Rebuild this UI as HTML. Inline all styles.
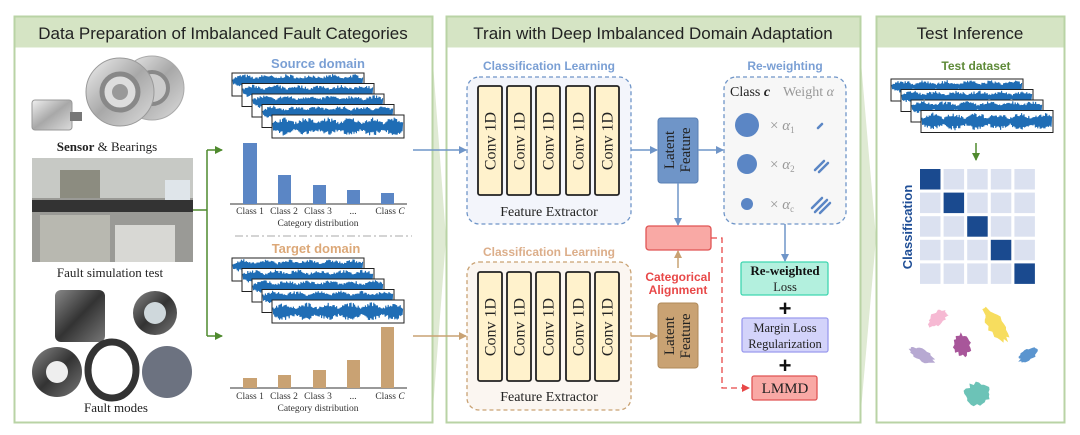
<!DOCTYPE html>
<html><head><meta charset="utf-8"><style>
html,body{margin:0;padding:0;background:#fff;}
svg{display:block;}
text{font-family:"Liberation Sans",sans-serif;}
.serif,.serif text,text.serif{font-family:"Liberation Serif",serif;}
</style></head><body>
<svg id="s" width="1080" height="435" viewBox="0 0 1080 435" xmlns="http://www.w3.org/2000/svg">
<defs>
<marker id="ab" markerWidth="8" markerHeight="8" refX="7" refY="4" orient="auto" markerUnits="userSpaceOnUse"><path d="M0,0 L8,4 L0,8z" fill="#6f95c8"/></marker>
<marker id="at" markerWidth="8" markerHeight="8" refX="7" refY="4" orient="auto" markerUnits="userSpaceOnUse"><path d="M0,0 L8,4 L0,8z" fill="#c9a273"/></marker>
<marker id="ag" markerWidth="8" markerHeight="8" refX="7" refY="4" orient="auto" markerUnits="userSpaceOnUse"><path d="M0,0 L8,4 L0,8z" fill="#4f8a2e"/></marker>
<marker id="ar" markerWidth="8" markerHeight="8" refX="7" refY="4" orient="auto" markerUnits="userSpaceOnUse"><path d="M0,0 L8,4 L0,8z" fill="#e84848"/></marker>
<linearGradient id="metal" x1="0" y1="0" x2="1" y2="1"><stop offset="0" stop-color="#f0f0f0"/><stop offset="0.5" stop-color="#a8a8a8"/><stop offset="1" stop-color="#dcdcdc"/></linearGradient>
<linearGradient id="dark" x1="0" y1="0" x2="1" y2="1"><stop offset="0" stop-color="#888"/><stop offset="0.5" stop-color="#333"/><stop offset="1" stop-color="#777"/></linearGradient>
</defs>

<polygon points="432,50 446,238 432,422" fill="#dfead3"/>
<polygon points="860,50 876,238 860,422" fill="#dfead3"/>

<rect x="14.5" y="16.5" width="418" height="406" fill="#fff" stroke="#b9d3a5" stroke-width="2"/>
<rect x="15.5" y="17.5" width="416" height="30" fill="#d5e4c4"/>
<text x="223" y="39" font-size="17" text-anchor="middle" fill="#222">Data Preparation of Imbalanced Fault Categories</text>

<rect x="446.5" y="16.5" width="414" height="406" fill="#fff" stroke="#b9d3a5" stroke-width="2"/>
<rect x="447.5" y="17.5" width="412" height="30" fill="#d5e4c4"/>
<text x="653" y="39" font-size="17" text-anchor="middle" fill="#222">Train with Deep Imbalanced Domain Adaptation</text>

<rect x="876.5" y="16.5" width="188" height="406" fill="#fff" stroke="#b9d3a5" stroke-width="2"/>
<rect x="877.5" y="17.5" width="186" height="30" fill="#d5e4c4"/>
<text x="970" y="39" font-size="17" text-anchor="middle" fill="#222">Test Inference</text>

<!-- Panel 1 photos -->
<rect x="32" y="100" width="40" height="30" rx="3" fill="url(#metal)" stroke="#999"/>
<rect x="70" y="112" width="12" height="9" fill="#777"/>
<circle cx="152" cy="88" r="32" fill="url(#metal)" stroke="#aaa"/>
<circle cx="152" cy="88" r="16" fill="#ccc" stroke="#888" stroke-width="4"/>
<circle cx="120" cy="92" r="34" fill="url(#metal)" stroke="#999"/>
<circle cx="120" cy="92" r="18" fill="#ddd" stroke="#888" stroke-width="5"/>
<circle cx="120" cy="92" r="8" fill="#999"/>
<text x="107" y="151" font-size="13" text-anchor="middle" class="serif" fill="#222"><tspan font-weight="bold">Sensor</tspan> &amp; Bearings</text>
<rect x="32" y="158" width="161" height="104" fill="#9a9a96"/>
<rect x="32" y="158" width="161" height="40" fill="#c7c9c5"/>
<rect x="32" y="200" width="161" height="12" fill="#333"/>
<rect x="40" y="215" width="70" height="47" fill="#b8b8b0"/>
<rect x="115" y="225" width="60" height="37" fill="#d8d8d4"/>
<rect x="60" y="170" width="40" height="28" fill="#8c8c80"/>
<rect x="165" y="180" width="25" height="20" fill="#dfe5ea"/>
<text x="110" y="277" font-size="13" text-anchor="middle" class="serif" fill="#222">Fault simulation test</text>
<rect x="55" y="290" width="50" height="52" rx="6" fill="url(#dark)"/>
<circle cx="155" cy="313" r="22" fill="url(#dark)"/><circle cx="155" cy="313" r="11" fill="#cfd8dc"/>
<circle cx="57" cy="372" r="25" fill="url(#dark)"/><circle cx="57" cy="372" r="11" fill="#eee"/>
<ellipse cx="112" cy="370" rx="24" ry="28" fill="none" stroke="#333" stroke-width="7"/>
<ellipse cx="167" cy="372" rx="25" ry="26" fill="#6c7280"/>
<text x="116" y="412" font-size="13" text-anchor="middle" class="serif" fill="#222">Fault modes</text>

<path d="M193,210 H207 M207,150 V336" stroke="#4f8a2e" stroke-width="1.5" fill="none"/>
<line x1="207" y1="150" x2="222" y2="150" stroke="#4f8a2e" stroke-width="1.5" marker-end="url(#ag)"/>
<line x1="207" y1="336" x2="222" y2="336" stroke="#4f8a2e" stroke-width="1.5" marker-end="url(#ag)"/>

<text x="318" y="68" font-size="13" font-weight="bold" text-anchor="middle" fill="#7a9fd4">Source domain</text>
<g id="src"></g>
<line x1="230" y1="204" x2="407" y2="204" stroke="#333"/>
<g fill="#5b86c5">
<rect x="243" y="143" width="14" height="61"/><rect x="278" y="175" width="13" height="29"/><rect x="313" y="185" width="13" height="19"/><rect x="347" y="190" width="13" height="14"/><rect x="381" y="193" width="13" height="11"/>
</g>
<g class="serif" font-size="9.5" fill="#333" text-anchor="middle">
<text x="250" y="214">Class 1</text><text x="284" y="214">Class 2</text><text x="318" y="214">Class 3</text><text x="353" y="214">...</text><text x="390" y="214">Class <tspan font-style="italic">C</tspan></text>
<text x="318" y="226">Category distribution</text>
</g>
<line x1="235" y1="236" x2="412" y2="236" stroke="#aaa" stroke-dasharray="8,3,2,3"/>
<text x="316" y="253" font-size="13" font-weight="bold" text-anchor="middle" fill="#dca878">Target domain</text>
<g id="tgt"></g>
<line x1="230" y1="388" x2="407" y2="388" stroke="#333"/>
<g fill="#c9a273">
<rect x="243" y="378" width="14" height="10"/><rect x="278" y="375" width="13" height="13"/><rect x="313" y="370" width="13" height="18"/><rect x="347" y="360" width="13" height="28"/><rect x="381" y="327" width="13" height="61"/>
</g>
<g class="serif" font-size="9.5" fill="#333" text-anchor="middle">
<text x="250" y="399">Class 1</text><text x="284" y="399">Class 2</text><text x="318" y="399">Class 3</text><text x="353" y="399">...</text><text x="390" y="399">Class <tspan font-style="italic">C</tspan></text>
<text x="318" y="411">Category distribution</text>
</g>

<!-- Panel 2 -->
<line x1="413" y1="150" x2="466" y2="150" stroke="#6f95c8" stroke-width="1.5" marker-end="url(#ab)"/>
<line x1="413" y1="336" x2="466" y2="336" stroke="#c9a273" stroke-width="1.5" marker-end="url(#at)"/>

<text x="549" y="70" font-size="12" font-weight="bold" text-anchor="middle" fill="#7a9fd4">Classification Learning</text>
<rect x="467" y="77" width="164" height="147" rx="12" fill="#f3f5fb" stroke="#6f95c8" stroke-dasharray="4,3" stroke-width="1.3"/>
<text x="549" y="216" font-size="14" text-anchor="middle" class="serif" fill="#222">Feature Extractor</text>

<text x="549" y="256" font-size="12" font-weight="bold" text-anchor="middle" fill="#dcae8a">Classification Learning</text>
<rect x="467" y="262" width="164" height="148" rx="12" fill="#fbf6f1" stroke="#c9a273" stroke-dasharray="4,3" stroke-width="1.3"/>
<text x="549" y="401" font-size="14" text-anchor="middle" class="serif" fill="#222">Feature Extractor</text>

<g id="convs"></g>

<line x1="631" y1="150" x2="657" y2="150" stroke="#6f95c8" stroke-width="1.5" marker-end="url(#ab)"/>
<rect x="658" y="118" width="40" height="65" rx="3" fill="#6f95c8" stroke="#5a80b5"/>
<text transform="translate(683,150) rotate(-90)" font-size="15" text-anchor="middle" class="serif" fill="#222"><tspan x="0" dy="-9">Latent</tspan><tspan x="0" dy="16">Feature</tspan></text>
<line x1="698" y1="150" x2="723" y2="150" stroke="#6f95c8" stroke-width="1.5" marker-end="url(#ab)"/>
<line x1="678" y1="183" x2="678" y2="225" stroke="#6f95c8" stroke-width="1.5" marker-end="url(#ab)"/>

<line x1="631" y1="336" x2="657" y2="336" stroke="#c9a273" stroke-width="1.5" marker-end="url(#at)"/>
<rect x="658" y="303" width="40" height="65" rx="3" fill="#c9a273" stroke="#b08a5a"/>
<text transform="translate(683,336) rotate(-90)" font-size="15" text-anchor="middle" class="serif" fill="#222"><tspan x="0" dy="-9">Latent</tspan><tspan x="0" dy="16">Feature</tspan></text>
<line x1="678" y1="268" x2="678" y2="251" stroke="#c9a273" stroke-width="1.5" marker-end="url(#at)"/>
<text x="678" y="281" font-size="12" font-weight="bold" text-anchor="middle" fill="#e84848">Categorical</text>
<text x="678" y="294" font-size="12" font-weight="bold" text-anchor="middle" fill="#e84848">Alignment</text>

<rect x="646" y="226" width="65" height="24" rx="3" fill="#f9a9a5" stroke="#e05555" stroke-width="1.3"/>
<path d="M711,238 H722 V388 H749" stroke="#e84848" stroke-width="1.3" fill="none" stroke-dasharray="6,4" marker-end="url(#ar)"/>

<text x="785" y="70" font-size="12" font-weight="bold" text-anchor="middle" fill="#7a9fd4">Re-weighting</text>
<rect x="724" y="77" width="122" height="147" rx="12" fill="#f7f7f7" stroke="#6f95c8" stroke-dasharray="4,3" stroke-width="1.3"/>
<text x="730" y="96" font-size="14" class="serif" fill="#222">Class <tspan font-style="italic" font-weight="bold">c</tspan></text>
<text x="783" y="96" font-size="14" class="serif" fill="#999">Weight <tspan font-style="italic">α</tspan></text>
<circle cx="747" cy="125" r="12" fill="#5b86c5"/>
<circle cx="747" cy="164" r="10" fill="#5b86c5"/>
<circle cx="747" cy="204" r="6" fill="#5b86c5"/>
<g class="serif" font-size="15" fill="#999">
<text x="770" y="130">× <tspan font-style="italic">α</tspan><tspan font-size="9" dy="3">1</tspan></text>
<text x="770" y="169">× <tspan font-style="italic">α</tspan><tspan font-size="9" dy="3">2</tspan></text>
<text x="770" y="209">× <tspan font-style="italic">α</tspan><tspan font-size="9" dy="3">c</tspan></text>
</g>
<g stroke="#5b86c5" stroke-width="2.5" stroke-linecap="round">
<line x1="818" y1="128" x2="822" y2="124"/>
<line x1="815" y1="170" x2="824" y2="161"/><line x1="819" y1="172" x2="828" y2="163"/>
<line x1="812" y1="208" x2="822" y2="198"/><line x1="815" y1="212" x2="827" y2="200"/><line x1="820" y1="213" x2="830" y2="203"/>
</g>
<line x1="785" y1="224" x2="785" y2="261" stroke="#6f95c8" stroke-width="1.5" marker-end="url(#ab)"/>

<rect x="741" y="262" width="87" height="33" rx="2" fill="#b3f0de" stroke="#3fd6b0" stroke-width="1.3"/>
<text x="785" y="275" font-size="13" font-weight="bold" text-anchor="middle" class="serif" fill="#111">Re-weighted</text>
<text x="785" y="291" font-size="12.5" text-anchor="middle" class="serif" fill="#222">Loss</text>
<text x="785" y="316" font-size="22" font-weight="bold" text-anchor="middle" fill="#111">+</text>
<rect x="742" y="318" width="86" height="34" rx="2" fill="#d3d3fa" stroke="#9a9aee" stroke-width="1.3"/>
<text x="785" y="332" font-size="12.5" text-anchor="middle" class="serif" fill="#222">Margin Loss</text>
<text x="785" y="348" font-size="12.5" text-anchor="middle" class="serif" fill="#222">Regularization</text>
<text x="785" y="373" font-size="22" font-weight="bold" text-anchor="middle" fill="#111">+</text>
<rect x="752" y="376" width="65" height="24" rx="2" fill="#f9a9a5" stroke="#e05555" stroke-width="1.3"/>
<text x="785" y="393" font-size="15" text-anchor="middle" class="serif" fill="#222">LMMD</text>

<!-- Panel 3 -->
<text x="976" y="70" font-size="12" font-weight="bold" text-anchor="middle" fill="#5e8a38">Test dataset</text>
<g id="tst"></g>
<line x1="976" y1="143" x2="976" y2="160" stroke="#4f8a2e" stroke-width="1.5" marker-end="url(#ag)"/>
<g id="mat"></g>
<text transform="translate(912,227) rotate(-90)" font-size="13" font-weight="bold" text-anchor="middle" fill="#1f4e96">Classification</text>
<g id="blobs"></g>
</svg>
<script>
var NS="http://www.w3.org/2000/svg";
function el(p,t,a){var e=document.createElementNS(NS,t);for(var k in a)e.setAttribute(k,a[k]);p.appendChild(e);return e;}
var seed=7;function rnd(){seed=(seed*16807)%2147483647;return seed/2147483647;}
function stack(id,x0,y0,w,h,n,dx,dy){
 var g=document.getElementById(id);
 for(var i=0;i<n;i++){var x=x0+i*dx,y=y0+i*dy;
  el(g,"rect",{x:x,y:y,width:w,height:h,fill:"#fff",stroke:"#222","stroke-width":1});
  var pts=[],last=(i==n-1);
  var cy=last?y+h/2:y+h*0.35;
  for(var j=0;j<=w-2;j+=0.6){
   var env=(0.45+0.55*Math.abs(Math.sin(j/7)))*(0.5+0.5*rnd());
   var amp=(last?0.4:0.3)*h*env;
   var s=(Math.round(j/0.6)%2?1:-1);
   pts.push((x+1+j).toFixed(1)+","+(cy+s*amp).toFixed(1));}
  el(g,"polyline",{points:pts.join(" "),fill:"none",stroke:"#1f6db5","stroke-width":1.1});
 }}
stack("src",232,73,132,23,5,10,10.5);
stack("tgt",232,258,132,23,5,10,10.5);
stack("tst",891,79,132,22,4,10,10.5);
var cg=document.getElementById("convs");
[86,272].forEach(function(y){[478,507,536,566,595].forEach(function(x){
 el(cg,"rect",{x:x,y:y,width:24,height:109,rx:2,fill:"#fff2cc",stroke:"#222","stroke-width":1.8});
 var t=el(cg,"text",{transform:"translate("+(x+17.5)+","+(y+55)+") rotate(-90)","font-size":"16","text-anchor":"middle","class":"serif",fill:"#222"});t.textContent="Conv 1D";});});
var mg=document.getElementById("mat");
for(var r=0;r<5;r++)for(var c=0;c<5;c++)el(mg,"rect",{x:920+c*23.6,y:169+r*23.6,width:20.5,height:20.5,fill:r==c?"#1a4a8f":"#dbe1f0"});
var bg=document.getElementById("blobs");
function blob(cx,cy,rx,ry,rot,col,n){
 var pts=[];for(var k=0;k<n;k++){var a=k/n*2*Math.PI;var f=0.75+0.35*rnd();
  var px=rx*f*Math.cos(a),py=ry*f*Math.sin(a);var rr=rot*Math.PI/180;
  pts.push((cx+px*Math.cos(rr)-py*Math.sin(rr)).toFixed(1)+","+(cy+px*Math.sin(rr)+py*Math.cos(rr)).toFixed(1));}
 el(bg,"polygon",{points:pts.join(" "),fill:col});}
[[938,318,7,12,50,"#f6b9d3"],[996,325,9,20,-35,"#f7dd5e"],[922,355,6,14,-60,"#b7a9d2"],[962,345,9,12,-15,"#a8569a"],[1028,355,6,11,55,"#5b95cf"],[978,394,14,12,-10,"#6cc3b7"]].forEach(function(b){
 blob(b[0],b[1],b[2],b[3],b[4],b[5],28);});
</script>
</body></html>
